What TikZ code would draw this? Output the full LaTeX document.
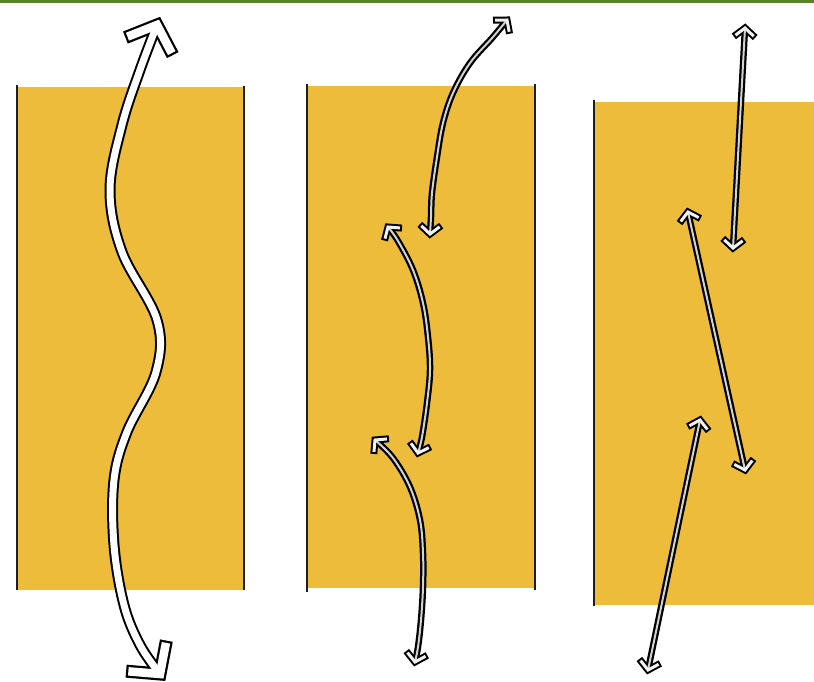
\documentclass[tikz,border=0pt]{standalone}
\usetikzlibrary{calc}
\definecolor{panelyellow}{RGB}{237,188,58}
\definecolor{topgreen}{RGB}{88,132,40}
\definecolor{edgeline}{RGB}{30,30,30}
\colorlet{headfill}{white}
% chevron: #1 width, #2 colour, #3 arm length, #4 half angle, #5 tip, #6 back point
\newcommand\chev[6]{%
  \draw[line width=#1pt, #2, line join=miter, line cap=butt]
    ($(#5)!#3pt!#4:(#6)$) -- (#5) -- ($(#5)!#3pt!-#4:(#6)$);}
% #1 name, #2 shaft outer, #3 shaft inner, #4 head outer, #5 head inner,
% #6 arm length, #7 half angle, #8 shaft inner colour, #9 path
\newcommand\harrow[9]{%
  \draw[line width=#2pt, black, line cap=butt, line join=round] #9;
  \chev{#4}{black}{#6}{#7}{#1-t1}{#1-p1}%
  \chev{#4}{black}{#6}{#7}{#1-t2}{#1-p2}%
  \pgfmathsetmacro\innerarm{#6-(#4-#5)/2}%
  \draw[line width=#3pt, #8, line cap=butt, line join=round] #9;
  \chev{#5}{headfill}{\innerarm}{#7}{#1-t1}{#1-p1}%
  \chev{#5}{headfill}{\innerarm}{#7}{#1-t2}{#1-p2}%
}
\tikzset{
  panel/.style={fill=panelyellow, draw=none},
  paneledge/.style={draw=edgeline, line width=1.8pt},
}
\begin{document}
\begin{tikzpicture}[x=1pt, y=-1pt]
\useasboundingbox (0,0) rectangle (814,682);
\fill[white] (0,0) rectangle (814,682);
\fill[topgreen] (0,0) rectangle (814,3);

% panels
\fill[panel] (18,87) rectangle (244,590);
\draw[paneledge] (17,85) -- (17,590);
\draw[paneledge] (244,86) -- (244,590);

\fill[panel] (307,86) rectangle (535,588);
\draw[paneledge] (307,84) -- (307,592);
\draw[paneledge] (535,84) -- (535,590);

\fill[panel] (594,102) rectangle (814,605);
\draw[draw=edgeline, line width=1.2pt] (594,100) -- (594,606);

% panel 1: wavy arrow
\coordinate (w-t1) at (157,25);
\coordinate (w-p1) at (144,60);
\coordinate (w-t2) at (160,674);
\coordinate (w-p2) at (138,645);
\harrow{w}{11}{7}{13}{8.5}{34}{48}{white}{plot[smooth, tension=0.6] coordinates {(157,25) (140,70) (122,125) (110,190) (122,252) (157,320) (156,372) (127,432) (114,480) (114,545) (124,605) (140,645) (160,674)}}

% panel 2: three curved arrows
\colorlet{headfill}{white!88!gray}
\coordinate (a-t1) at (507,20);
\coordinate (a-p1) at (493,37);
\coordinate (a-t2) at (430,234);
\coordinate (a-p2) at (431,217);
\harrow{a}{6.5}{2}{7}{3}{14}{50}{gray!35}{plot[smooth, tension=0.6] coordinates {(507,20) (493,37) (470,63) (453,93) (443,123) (437,157) (432,193) (431,217) (430,234)}}

\coordinate (b-t1) at (388,227);
\coordinate (b-p1) at (398,241);
\coordinate (b-t2) at (418,453);
\coordinate (b-p2) at (422,437);
\harrow{b}{6.5}{2}{7}{3}{14}{50}{gray!35}{plot[smooth, tension=0.6] coordinates {(388,227) (398,241) (413,270) (423,303) (428,337) (430,370) (427,403) (422,437) (418,453)}}

\coordinate (c-t1) at (375,440);
\coordinate (c-p1) at (393,458);
\coordinate (c-t2) at (415,662);
\coordinate (c-p2) at (418,647);
\harrow{c}{6.5}{2}{7}{3}{14}{50}{gray!35}{plot[smooth, tension=0.6] coordinates {(375,440) (393,458) (410,487) (420,520) (423,553) (423,587) (421,620) (418,647) (415,662)}}

% panel 3: three straight arrows
\coordinate (d-t1) at (745,28);
\coordinate (d-t2) at (733,248);
\coordinate (d-p1) at (d-t2);
\coordinate (d-p2) at (d-t1);
\coordinate (e-t1) at (688,212);
\coordinate (e-t2) at (745,470);
\coordinate (e-p1) at (e-t2);
\coordinate (e-p2) at (e-t1);
\coordinate (f-t1) at (700,420);
\coordinate (f-t2) at (648,670);
\coordinate (f-p1) at (f-t2);
\coordinate (f-p2) at (f-t1);
\harrow{d}{6.5}{2}{7}{3}{14}{50}{gray!35}{(d-t1) -- (d-t2)}
\harrow{e}{6.5}{2}{7}{3}{14}{50}{gray!35}{(e-t1) -- (e-t2)}
\harrow{f}{6.5}{2}{7}{3}{14}{50}{gray!35}{(f-t1) -- (f-t2)}
\end{tikzpicture}
\end{document}
